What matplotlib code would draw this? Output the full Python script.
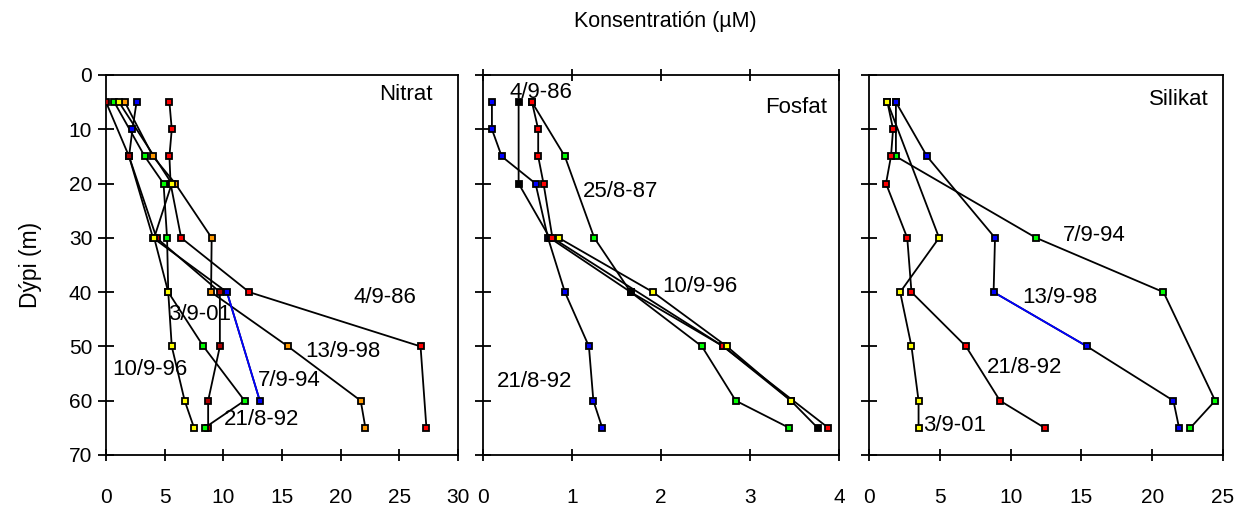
import matplotlib
matplotlib.use("Agg")
import matplotlib.pyplot as plt

plt.rcParams["font.family"] = ["Liberation Sans", "DejaVu Sans"]

# --- data: depth (m) and concentration (uM) per station date ---
depth_ticks = [0, 10, 20, 30, 40, 50, 60, 70]

# Nitrat
nitrat_dates = ["4/9-86", "13/9-98", "7/9-94", "21/8-92", "10/9-96", "3/9-01"]
nitrat_depths = [
    [5, 10, 15, 20, 30, 40, 50, 65],
    [5, 15, 20, 30, 40, 50, 60, 65],
    [5, 10, 15, 30, 40, 60],
    [5, 15, 30, 40, 50, 60, 65],
    [5, 15, 20, 30, 40, 50, 60, 65],
    [5, 20, 30, 40, 50, 60, 65],
]
nitrat_values = [
    [5.4, 5.6, 5.4, 5.5, 6.4, 12.2, 26.8, 27.3],
    [1.6, 4.0, 5.9, 9.0, 8.95, 15.5, 21.7, 22.1],
    [2.6, 2.25, 1.96, 4.0, 10.3, 13.1],
    [0.0, 1.96, 4.3, 9.7, 9.7, 8.7, 8.7],
    [0.7, 3.3, 4.9, 5.2, 5.3, 8.3, 11.8, 8.4],
    [1.1, 5.6, 4.1, 5.3, 5.6, 6.7, 7.5],
]
nitrat_xticks = [0, 5, 10, 15, 20, 25, 30]

# Fosfat
fosfat_dates = ["21/8-92", "25/8-87", "4/9-86", "red", "10/9-96"]
fosfat_depths = [
    [5, 10, 15, 20, 30, 40, 50, 60, 65],
    [5, 15, 30, 40, 50, 60, 65],
    [5, 20, 30, 40, 50, 60, 65],
    [5, 10, 15, 20, 30, 50, 65],
    [30, 40, 50, 60],
]
fosfat_values = [
    [0.10, 0.10, 0.21, 0.59, 0.73, 0.92, 1.19, 1.24, 1.34],
    [0.55, 0.92, 1.25, 1.66, 2.46, 2.84, 3.44],
    [0.40, 0.40, 0.75, 1.66, 2.70, 3.46, 3.76],
    [0.55, 0.62, 0.62, 0.68, 0.78, 2.70, 3.88],
    [0.85, 1.91, 2.74, 3.46],
]
fosfat_xticks = [0, 1, 2, 3, 4]

# Silikat
silikat_dates = ["7/9-94", "13/9-98", "21/8-92", "3/9-01"]
silikat_depths = [
    [5, 15, 30, 40, 60, 65],
    [5, 15, 30, 40, 50, 60, 65],
    [5, 10, 15, 20, 30, 40, 50, 60, 65],
    [5, 30, 40, 50, 60, 65],
]
silikat_values = [
    [1.9, 1.9, 11.8, 20.8, 24.45, 22.7],
    [1.9, 4.1, 8.9, 8.8, 15.4, 21.5, 21.9],
    [1.3, 1.7, 1.55, 1.2, 2.7, 3.0, 6.85, 9.25, 12.4],
    [1.3, 4.95, 2.2, 3.0, 3.5, 3.5],
]
silikat_xticks = [0, 5, 10, 15, 20, 25]

# --- styles ---
nitrat_colors = ["#ff0000", "#ff9900", "#0000ff", "#b00000", "#00ff00", "#ffff00"]
fosfat_colors = ["#0000ff", "#00ff00", "#000000", "#ff0000", "#ffff00"]
silikat_colors = ["#00ff00", "#0000ff", "#ff0000", "#ffff00"]

# (series index, index of segment start) drawn in blue
nitrat_blue = (2, 4)
silikat_blue = (1, 3)

# text labels: (text, x, depth, ha)
nitrat_labels = [
    ("Nitrat", 27.8, 3.6, "right"), ("4/9-86", 21.1, 40.9, "left"),
    ("3/9-01", 5.3, 44.2, "left"), ("13/9-98", 17.0, 51.0, "left"),
    ("10/9-96", 0.5, 54.3, "left"), ("7/9-94", 12.9, 56.2, "left"),
    ("21/8-92", 10.0, 63.5, "left"),
]
fosfat_labels = [
    ("Fosfat", 3.87, 5.9, "right"), ("4/9-86", 0.30, 3.3, "left"),
    ("25/8-87", 1.12, 21.5, "left"), ("10/9-96", 2.01, 39.0, "left"),
    ("21/8-92", 0.16, 56.5, "left"),
]
silikat_labels = [
    ("Silikat", 23.96, 4.6, "right"), ("7/9-94", 13.7, 29.5, "left"),
    ("13/9-98", 10.8, 40.9, "left"), ("21/8-92", 8.3, 53.8, "left"),
    ("3/9-01", 3.8, 64.5, "left"),
]


def draw_panel(ax, depths, values, colors, xticks, labels, blue=None,
               show_ylabels=False):
    """Draws one profile panel with depth increasing downwards"""
    for i, (d, v) in enumerate(zip(depths, values)):
        ax.plot(v, d, color="black", lw=1.3, zorder=2)
        if blue is not None and blue[0] == i:
            j = blue[1]
            ax.plot(v[j:j + 2], d[j:j + 2], color="#0000ff", lw=1.3,
                    zorder=3)
        ax.plot(v, d, ls="none", marker="s", ms=5, mfc=colors[i],
                mec="black", mew=1.3, zorder=4)

    for text, x, y, ha in labels:
        ax.text(x, y, text, ha=ha, va="center", fontsize=16, zorder=5)

    ax.set_xlim(xticks[0], xticks[-1])
    ax.set_ylim(70, 0)
    ax.set_xticks(xticks)
    ax.set_yticks(depth_ticks)
    ax.tick_params(axis="x", direction="inout", length=9, width=1.3,
                   pad=19, labelsize=15)
    ax.tick_params(axis="y", direction="inout", length=12, width=1.3,
                   pad=4, labelsize=15, labelleft=show_ylabels)
    for sp in ax.spines.values():
        sp.set_linewidth(1.3)


fig = plt.figure(figsize=(12.52, 5.07), dpi=100)
bottom, height = 0.1026, 0.7495
ax1 = fig.add_axes([0.0847, bottom, 0.2812, height])
ax2 = fig.add_axes([0.3858, bottom, 0.2843, height])
ax3 = fig.add_axes([0.6941, bottom, 0.2827, height])

draw_panel(ax1, nitrat_depths, nitrat_values, nitrat_colors, nitrat_xticks,
           nitrat_labels, blue=nitrat_blue, show_ylabels=True)
draw_panel(ax2, fosfat_depths, fosfat_values, fosfat_colors, fosfat_xticks,
           fosfat_labels)
draw_panel(ax3, silikat_depths, silikat_values, silikat_colors,
           silikat_xticks, silikat_labels, blue=silikat_blue)

# small tick marks along the top of the Fosfat panel
ax2.tick_params(axis="x", top=True, labeltop=False)

fig.text(665 / 1252, 1 - 22 / 507, "Konsentratión (µM)", ha="center",
         va="center", fontsize=15.5)
fig.text(30 / 1252, 1 - 265 / 507, "Dýpi (m)", ha="center", va="center",
         rotation=90, fontsize=16.5)

fig.savefig("out.png", dpi=100)
